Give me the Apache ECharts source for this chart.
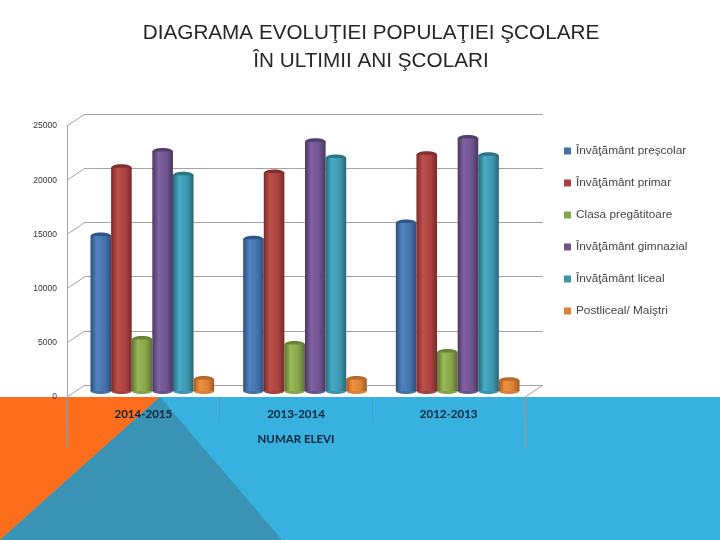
<!DOCTYPE html>
<html><head><meta charset="utf-8">
<style>html,body{margin:0;padding:0;background:#fff}#c{width:720px;height:540px}</style>
<script src="https://cdn.jsdelivr.net/npm/echarts@6/dist/echarts.min.js"></script>
</head><body><div id="c"></div>
<script>
const years = ['2014-2015','2013-2014','2012-2013'];
const seriesNames = ['Învăţământ preşcolar','Învăţământ primar','Clasa pregătitoare','Învăţământ gimnazial','Învăţământ liceal','Postliceal/ Maiştri'];
const prescolar = [14300,14000,15500];
const primar = [20600,20100,21800];
const pregatitoare = [4750,4300,3550];
const gimnazial = [22100,23000,23300];
const liceal = [19900,21500,21700];
const postliceal = [1050,1050,950];
const allValues = [prescolar,primar,pregatitoare,gimnazial,liceal,postliceal];
const baseColors = ['#4472a8','#a8423f','#86a44a','#6e548d','#3d96ae','#da8137'];
const darkColors = ['#2c4f7c','#762b29','#5b7131','#4a3761','#2a6677','#a05b22'];
const lightColors = ['#4f83c0','#bd4f4b','#9aba58','#7f62a1','#46abc6','#f0923f'];
const capColors = ['#2f5687','#812f2d','#688237','#523e6b','#2b7386','#b5692a'];
const yTicks = [0,5000,10000,15000,20000,25000];

const W = 458, H = 271, DX = 18, DY = 12;
const frontL = 67, frontT = 126, frontB = frontT + H;
const gridLine = '#a3a3a3';
const gapRatio = 0.19;

function cyl(i){
  return {type:'linear',x:0,y:0,x2:1,y2:0,colorStops:[
    {offset:0,color:darkColors[i]},{offset:.3,color:lightColors[i]},
    {offset:.7,color:baseColors[i]},{offset:1,color:darkColors[i]}]};
}
const series = [];
allValues.forEach((vals,i)=>{
  series.push({name:seriesNames[i],type:'bar',xAxisIndex:2,yAxisIndex:2,data:vals,barGap:0,barCategoryGap:(gapRatio*100)+'%',
    z:3+i,emphasis:{disabled:true},itemStyle:{color:cyl(i)}});
});
// round ends of each cylinder, placed by the same scales as the bars
allValues.forEach((vals,i)=>{
  series.push({name:seriesNames[i],type:'custom',xAxisIndex:2,yAxisIndex:2,z:3+i,silent:true,
    data:vals.map((v,k)=>[k,v]),
    encode:{x:0,y:1},
    renderItem:(p,api)=>{
      const band = api.size([1,0])[0];
      const w = band*(1-gapRatio)/6;
      const c = api.coord([api.value(0),api.value(1)]);
      const b = api.coord([api.value(0),0]);
      const x = c[0]-band*(1-gapRatio)/2+(i+.5)*w;
      return {type:'group',children:[
        {type:'ellipse',shape:{cx:x,cy:b[1],rx:w/2,ry:3},style:{fill:baseColors[i]}},
        {type:'ellipse',shape:{cx:x,cy:c[1],rx:w/2,ry:3.5},style:{fill:capColors[i]}}
      ]};
    }});
});

const seg = (x1,y1,x2,y2,c,lw)=>({type:'line',z:1,shape:{x1,y1,x2,y2},style:{stroke:c||gridLine,lineWidth:lw||1}});
const graphics = [
  {type:'rect',z:-10,shape:{x:0,y:397,width:720,height:143},style:{fill:'#37b2e0'}},
  {type:'polygon',z:-9,shape:{points:[[0,397],[160,397],[0,540]]},style:{fill:'#fc6e1c'}},
  {type:'polygon',z:-9,shape:{points:[[160,397],[282,540],[0,540]]},style:{fill:'#3a93b4'}},
  seg(frontL,frontB,frontL,447,'#8a9aa4',1.5),
  seg(frontL+W,frontB,frontL+W,447,'#8a9aa4',1.5),
  seg(frontL+W,frontB,frontL+W+DX,frontB-DY)
];
yTicks.forEach(v=>{
  const y = frontB - v/25000*H;
  graphics.push(seg(frontL,y,frontL+DX,y-DY));
});

const chart = echarts.init(document.getElementById('c'),null,{renderer:'canvas'});
chart.setOption({
  animation:false,
  backgroundColor:'#ffffff',
  title:{text:'DIAGRAMA EVOLUŢIEI POPULAŢIEI ŞCOLARE\nÎN ULTIMII ANI ŞCOLARI',left:366,top:14,textAlign:'center',
    textStyle:{fontFamily:'Liberation Sans',fontWeight:'normal',fontSize:20.7,lineHeight:28,color:'#262626'}},
  legend:{orient:'vertical',left:564,top:145,padding:0,itemWidth:7,itemHeight:7,itemGap:20,icon:'rect',
    data:seriesNames.map((n,i)=>({name:n,itemStyle:{color:baseColors[i]}})),
    textStyle:{fontFamily:'Liberation Sans',fontSize:11.8,color:'#444'}},
  grid:[
    {left:frontL,top:frontT,width:W,height:H},
    {left:frontL+DX,top:frontT-DY,width:W,height:H},
    {left:76,top:120,width:W,height:H}
  ],
  xAxis:[
    {gridIndex:0,type:'category',data:years,
      axisLine:{show:false},
      axisTick:{show:true,alignWithLabel:false,length:26,lineStyle:{color:'rgba(120,130,140,0.45)'}},
      axisLabel:{fontFamily:'Lato',fontWeight:'bold',fontSize:11.5,color:'#0c2438',margin:11},
      name:'NUMAR ELEVI',nameLocation:'middle',nameGap:36,
      nameTextStyle:{fontFamily:'Lato',fontWeight:'bold',fontSize:11.5,color:'#0c2438'}},
    {gridIndex:1,type:'category',data:years,show:false},
    {gridIndex:2,type:'category',data:years,show:false}
  ],
  yAxis:[
    {gridIndex:0,type:'value',min:0,max:25000,interval:5000,
      axisLine:{show:true,lineStyle:{color:gridLine}},axisTick:{show:false},splitLine:{show:false},
      axisLabel:{fontFamily:'Liberation Sans',fontSize:8.5,color:'#333',margin:10,formatter:v=>String(v)}},
    {gridIndex:1,type:'value',min:0,max:25000,interval:5000,
      axisLine:{show:false},axisTick:{show:false},axisLabel:{show:false},
      splitLine:{show:true,lineStyle:{color:gridLine,width:1}}},
    {gridIndex:2,type:'value',min:0,max:25000,interval:5000,show:false}
  ],
  graphic:{elements:graphics},
  series
});
</script></body></html>
